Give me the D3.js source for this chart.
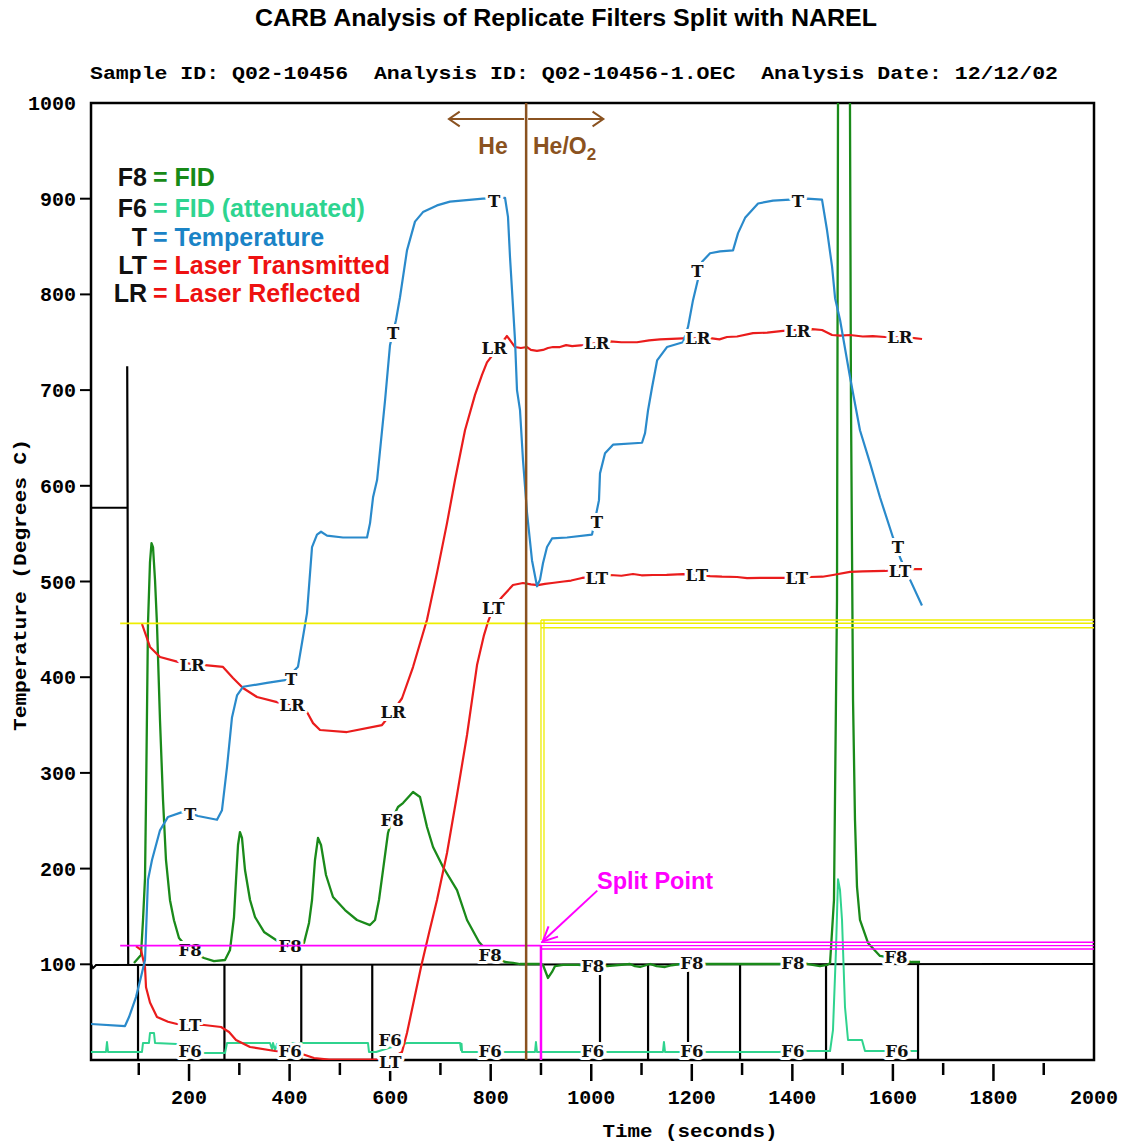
<!DOCTYPE html>
<html><head><meta charset="utf-8">
<script src="https://cdn.jsdelivr.net/npm/d3@7"></script>
<style>body{margin:0;background:#fff} svg{display:block}</style>
</head><body>
<svg id="c" width="1124" height="1142"></svg>
<script>
// ---------------- DATA ----------------
const xTickValues = [100,200,300,400,500,600,700,800,900,1000,1100,1200,1300,1400,1500,1600,1700,1800,1900];
const xTickLabels = [200,400,600,800,1000,1200,1400,1600,1800,2000];
const yTickValues = [100,200,300,400,500,600,700,800,900];
const yTickLabels = [100,200,300,400,500,600,700,800,900,1000];

// Temperature trace [time s, value]
const tempSeries = [[5,37.6],[72.6,35.5],[80.6,44.9],[94.5,65.8],[104.4,86.7],[112.4,104.5],[118.3,188],[126.3,209],[142.2,240],[158.1,254],[186,259],[202,258],[217.8,255],[255.6,251],[265.5,261],[275.5,306],[285.4,358],[295.4,381],[307.3,390],[355,394],[390.8,397],[416.7,411],[424.7,436],[434.6,467],[444.6,536],[454.5,549],[462.5,552],[474.4,548],[506.2,546],[554,546],[560,561],[566,588],[574,606],[590,690],[599.7,747],[611.6,773],[619.6,797],[633.5,846],[649.4,876],[665.3,886],[693.2,893],[719,897],[784.7,900],[828.5,901],[834.4,881],[838.4,839],[844.4,787],[848.4,752],[852.3,700],[858.3,679],[864.2,627],[872.2,572],[882.2,522],[892.1,495],[898.1,502],[904,519],[912,536],[922,545],[951.8,546],[1001.5,549],[1015.4,585],[1017.4,613],[1027.4,634],[1043.3,643],[1101,645],[1107,655],[1113,679],[1121,703],[1131,731],[1150.6,745],[1182.5,750],[1192.5,766],[1202.4,794],[1212,815],[1220.4,834],[1236.3,843],[1256.2,845],[1282,846],[1292,864],[1306,880],[1331.8,895],[1361.6,898],[1395.5,899],[1429.1,900],[1459,899],[1469,867],[1479,829],[1485,796],[1495,773],[1514.6,714],[1534.5,658],[1554.4,624],[1574.3,588],[1600.2,546],[1615,524],[1634,502],[1657.8,475]];

// Laser reflected
const lrSeries = [[106.4,455.6],[122.3,431.6],[142.2,421.1],[178,416],[205,414],[231.7,412.7],[267.5,410.7],[287.4,399.2],[307.3,388.7],[335.2,379.3],[375,374],[405,370],[434.6,363.6],[446.6,352],[460.5,344.8],[514.2,342.7],[583.8,350],[605,364],[623.6,378],[645.5,410.6],[673.3,460],[693.2,509],[713.1,561],[729,606],[748.9,658],[768.8,695],[782.7,716],[792.6,729],[832.4,756.5],[848.3,745],[860,744],[872.2,745],[880,742],[892,741],[904,742],[914,744],[924,745],[937.8,745],[950,747],[962,746],[983.6,747],[1010,749],[1037.3,751],[1060,750],[1091,750],[1115,752],[1136.7,753],[1182.5,754],[1240.1,754],[1255,753],[1270,755.5],[1290,756],[1321.7,759.6],[1350,760],[1381.4,761.8],[1410,763],[1439.2,763.8],[1459,762.8],[1479,757.6],[1495,757],[1514.7,757.6],[1540,756],[1560,756.5],[1584.3,755.5],[1614,755],[1638,754.5],[1658,753.4]];

// Laser transmitted
const ltSeries = [[94.5,119],[104.4,115],[112.4,97],[114.4,76],[122.3,60],[136.2,45],[158.1,40],[176,37.6],[202,37],[229.7,36.6],[263.6,34.5],[279.5,29.3],[293.4,20.9],[321.3,13.6],[371,9.4],[400,8],[424.7,6.3],[448.5,2.1],[478.4,0.5],[570,0.5],[600,1],[623.6,8.4],[633.5,28.2],[647.5,62.7],[661.4,97.2],[677.3,132.7],[693.2,167.2],[713.1,216.3],[733,276.9],[752.9,339.6],[772.8,412.7],[786.7,444],[794.6,457.7],[805,472],[822.5,483.8],[844.3,496.3],[864.2,498.4],[880,497],[894,496.3],[908,497.5],[922,498.4],[945,500],[960,501],[981.6,503.7],[1011,505],[1037.3,506.8],[1060,506],[1083,507.8],[1100,506.5],[1122.8,506.8],[1150,507],[1182.5,507.8],[1210,507],[1236.3,505.7],[1260,505],[1290,504.7],[1310,503.5],[1335.7,503.7],[1381.4,503.7],[1409,504],[1435,504.7],[1460,505],[1480.8,506.8],[1514.6,510],[1540,510.5],[1584.3,511],[1614,512],[1638,513],[1658,513]];

// FID (F8)
const f8Series = [[90.5,101.4],[104.4,109.7],[108.4,146],[112.4,190],[114.4,272],[118.3,455.6],[122.3,520],[125.3,540],[128.3,536],[132.3,501.6],[136.2,455.6],[142.2,355],[148.2,272],[154.1,209],[162.1,167],[170,146],[180,127.5],[202,114],[229.7,106.6],[249.6,103.4],[271.5,104.5],[281.5,115],[289.4,149.4],[293.4,188],[297.4,224.7],[301.3,238.2],[305.3,232],[311.3,198.5],[321.3,167.2],[331.2,149.4],[349.1,133.8],[379,123.3],[401,121],[428.6,122.3],[438.6,143.2],[444.6,167.2],[450.5,209],[456.5,232],[462.5,224.7],[472.4,193.3],[486.3,170.3],[510.2,156.7],[534,146.3],[559.9,141],[569.9,146.3],[577.8,167.2],[585.8,198.5],[595.7,237.2],[604,252],[615.6,264.4],[625.6,268.5],[645.5,280],[659.4,274.8],[673.3,243.5],[685.3,222.6],[705.2,201.7],[733,177.6],[752.9,146.3],[776.8,123.3],[800,110],[828.5,102.4],[844.4,101.4],[858.3,100.3],[900,100.3],[904,99.3],[914,85.7],[922,92],[928,98.2],[944,99.3],[973.6,99.3],[1003,98],[1031.3,98.2],[1077,100.3],[1087,98],[1097,97.2],[1117,100.3],[1130,98],[1146.7,97.2],[1160,99],[1176.5,100.3],[1200,100.3],[1228.4,100.3],[1375.6,100.3],[1431.2,100.3],[1455,98.2],[1469,99.3],[1475,101.4],[1482.8,167.2],[1488.8,480.7],[1490.8,1000],[1495,1150],[1505,1200],[1512,1150],[1514.6,1000],[1516.6,689.7],[1520.7,376],[1524.6,250.8],[1528.6,180.8],[1534.5,146.3],[1550.5,122.3],[1574.3,108.7],[1606,106],[1638,102.4],[1654,102.4]];

// FID attenuated (F6)
const f6Series = [[5,8.4],[34.8,8.4],[36.8,18.8],[38.8,8.4],[106.4,8.4],[108.4,17.8],[120.3,17.8],[122.3,28.2],[130.3,28.2],[132.3,17.8],[176,16.7],[202,12],[229.7,7.3],[271.5,7.3],[275.5,17.8],[361,17.8],[365,11.5],[367,17.8],[371,10.4],[375,16.7],[400,17.5],[428.6,17.8],[555.9,17.8],[557.9,8.4],[572,8.4],[600,13],[633.5,17.8],[739,17.8],[741,10.4],[742,17],[743,8.4],[772.8,8.4],[826.5,8.4],[888.1,8.4],[890,18.8],[892,8.4],[977.6,8.4],[1031.3,8.4],[1142.6,8.4],[1144.6,18.8],[1146.7,8.4],[1172.5,8.4],[1228.4,8.4],[1371.6,8.4],[1431.2,9.4],[1475,9.4],[1480.8,31.3],[1486.8,115],[1490.8,189],[1494.8,177.6],[1498.8,146.3],[1504.7,55.4],[1510.7,20.9],[1538.5,20.9],[1544.5,9.4],[1574.3,9.4],[1638,9.4],[1648,9.4]];

// Black integration baseline and segment markers
const baseSeries = [[5,100.3],[9,96],[15,99.3],[2000,100.3]];
const markerTimes = [98.5,270.4,423.2,564.4,1017.4,1113,1192.5,1296,1467,1650];
const blackTopSeries = [[5,577],[78,577]];
const blackDropSeries = [[77,725],[77.5,640],[78.5,420],[78,250],[79,100]];

// Trace label anchors [time, value]
const tLabels  = [[202,257],[403,398],[606,760],[807,898],[1011,562],[1211,824],[1411,898],[1610,536]];
const lrLabels = [[206,413],[405,371],[606,364],[807,744],[1011,749],[1212,754],[1411,762],[1614,755]];
const ltLabels = [[202,36.6],[600,-1.8],[805,472],[1011,504],[1210,507],[1409,504],[1614,511]];
const f8Labels = [[202,115],[401,119],[604,251],[799,110],[1003,98],[1200,101],[1401,101],[1606,108]];
const f6Labels = [[202,9.4],[401,9.4],[600,20.8],[799,9.4],[1003,9.4],[1200,9.4],[1401,9.4],[1608,9.4]];

// Annotations
const gasSwitchTime = 870.5;
const splitTime = 900;
const yellowLevel = 456.3;
const yellowLevelsRight = [459.8,456.3,451.7];
const magentaLevel = 119.5;
const magentaLevelsRight = [123,119.5,116];
const legendRows = [
  {key:"F8", text:"= FID", color:"#178a17"},
  {key:"F6", text:"= FID (attenuated)", color:"#2ed490"},
  {key:"T",  text:"= Temperature", color:"#1a83c6"},
  {key:"LT", text:"= Laser Transmitted", color:"#ee1111"},
  {key:"LR", text:"= Laser Reflected", color:"#ee1111"}
];

// ---------------- DRAW ----------------
const C = {f8:"#1a8a1a", f6:"#2fd38e", t:"#2a8acb", red:"#ea1c1c", brown:"#8a5220", yellow:"#eeee00", magenta:"#ff00ff"};
const x = d3.scaleLinear().domain([0,2000]).range([88.5,1094]);
const y = d3.scaleLinear().domain([0,1000]).range([1060,103]);
const svg = d3.select("#c");
const line = d3.line().x(d=>x(d[0])).y(d=>y(d[1]));
const frameStart = 5;
const monoFont = "'Liberation Mono','DejaVu Sans Mono',monospace";
const sansFont = "'Liberation Sans',Arial,sans-serif";

svg.append("defs").append("clipPath").attr("id","plot")
  .append("rect").attr("x",x(frameStart)).attr("y",y(1000)).attr("width",x(2000)-x(frameStart)).attr("height",y(0)-y(1000));

// Title + subtitle
svg.append("text").attr("x",566).attr("y",26).attr("text-anchor","middle")
  .attr("font-family",sansFont).attr("font-weight","bold").attr("font-size",23)
  .attr("textLength",622).attr("lengthAdjust","spacingAndGlyphs")
  .text("CARB Analysis of Replicate Filters Split with NAREL");
svg.append("text").attr("x",90).attr("y",79).style("white-space","pre")
  .attr("font-family",monoFont).attr("font-weight","bold").attr("font-size",19)
  .attr("textLength",968).attr("lengthAdjust","spacingAndGlyphs")
  .text("Sample ID: Q02-10456  Analysis ID: Q02-10456-1.OEC  Analysis Date: 12/12/02");

// Frame
const g = svg.append("g");
g.append("rect").attr("x",x(frameStart)).attr("y",y(1000)).attr("width",x(2000)-x(frameStart)).attr("height",y(0)-y(1000))
  .attr("fill","none").attr("stroke","#000").attr("stroke-width",2.5);

// Y ticks & labels
g.selectAll(".yt").data(yTickValues).join("line")
  .attr("x1",x(frameStart)-11).attr("x2",x(frameStart)).attr("y1",d=>y(d)).attr("y2",d=>y(d))
  .attr("stroke","#000").attr("stroke-width",2);
g.selectAll(".yl").data(yTickLabels).join("text")
  .attr("x",76).attr("y",d=>y(d)).attr("dy","0.35em").attr("text-anchor","end")
  .attr("font-family",monoFont).attr("font-weight","bold").attr("font-size",20).text(d=>d);

// X ticks & labels
g.selectAll(".xt").data(xTickValues).join("line")
  .attr("x1",d=>x(d)).attr("x2",d=>x(d))
  .attr("y1",d=>d%200===0?1064:1063).attr("y2",d=>d%200===0?1081:1075)
  .attr("stroke","#000").attr("stroke-width",2.5);
g.selectAll(".xl").data(xTickLabels).join("text")
  .attr("x",d=>x(d)).attr("y",1097).attr("dy","0.35em").attr("text-anchor","middle")
  .attr("font-family",monoFont).attr("font-weight","bold").attr("font-size",20).text(d=>d);

// Axis titles
svg.append("text").attr("transform","translate(19,585) rotate(-90)").attr("text-anchor","middle").attr("dy","0.35em")
  .attr("font-family",monoFont).attr("font-size",19).attr("font-weight","bold")
  .attr("textLength",292).attr("lengthAdjust","spacingAndGlyphs").text("Temperature (Degrees C)");
svg.append("text").attr("x",690).attr("y",1130).attr("text-anchor","middle").attr("dy","0.35em")
  .attr("font-family",monoFont).attr("font-size",19).attr("font-weight","bold")
  .attr("textLength",175).attr("lengthAdjust","spacingAndGlyphs").text("Time (seconds)");

// Black baseline, markers, left trace
const pl = svg.append("g").attr("clip-path","url(#plot)");
pl.append("path").attr("d",line(baseSeries)).attr("fill","none").attr("stroke","#000").attr("stroke-width",2);
pl.selectAll(".mk").data(markerTimes).join("line")
  .attr("x1",d=>x(d)).attr("x2",d=>x(d)).attr("y1",y(100)).attr("y2",y(0))
  .attr("stroke","#000").attr("stroke-width",2.2);
pl.append("path").attr("d",line(blackTopSeries)).attr("fill","none").attr("stroke","#000").attr("stroke-width",2);
pl.append("path").attr("d",line(blackDropSeries)).attr("fill","none").attr("stroke","#000").attr("stroke-width",2.2);

// Traces
const traces = [
  {d:f6Series, c:C.f6, w:2},
  {d:f8Series, c:C.f8, w:2.3},
  {d:ltSeries, c:C.red, w:2.2},
  {d:lrSeries, c:C.red, w:2.2},
  {d:tempSeries, c:C.t, w:2.2}
];
traces.forEach(t=>{
  pl.append("path").attr("d",line(t.d)).attr("fill","none").attr("stroke",t.c)
    .attr("stroke-width",t.w).attr("stroke-linejoin","round");
});

// Trace labels with white knock-out
const labelSets = [[tLabels,"T"],[lrLabels,"LR"],[ltLabels,"LT"],[f8Labels,"F8"],[f6Labels,"F6"]];
labelSets.forEach(([arr,txt])=>{
  svg.append("g").selectAll("text").data(arr).join("text")
    .attr("x",d=>x(d[0])).attr("y",d=>y(d[1])).attr("dy","0.36em").attr("text-anchor","middle")
    .attr("font-family","'DejaVu Serif',serif").attr("font-weight","bold").attr("font-size",16.5)
    .attr("fill","#111").attr("stroke","#fff").attr("stroke-width",6).attr("paint-order","stroke")
    .attr("stroke-linejoin","round").text(txt);
});

// Yellow lines
const an = svg.append("g");
an.append("line").attr("x1",x(63)).attr("x2",x(splitTime)).attr("y1",y(yellowLevel)).attr("y2",y(yellowLevel))
  .attr("stroke",C.yellow).attr("stroke-width",1.8);
an.selectAll(".yr").data(yellowLevelsRight).join("line")
  .attr("x1",x(splitTime)).attr("x2",x(2000)).attr("y1",d=>y(d)).attr("y2",d=>y(d))
  .attr("stroke",C.yellow).attr("stroke-width",1.4);
an.selectAll(".yv").data([splitTime, splitTime+6]).join("line")
  .attr("x1",d=>x(d)).attr("x2",d=>x(d)).attr("y1",y(yellowLevelsRight[0])).attr("y2",y(125.4))
  .attr("stroke",C.yellow).attr("stroke-width",1.3);

// Magenta lines
an.append("line").attr("x1",x(63)).attr("x2",x(splitTime)).attr("y1",y(magentaLevel)).attr("y2",y(magentaLevel))
  .attr("stroke",C.magenta).attr("stroke-width",1.8);
an.selectAll(".mr").data(magentaLevelsRight).join("line")
  .attr("x1",x(splitTime)).attr("x2",x(2000)).attr("y1",d=>y(d)).attr("y2",d=>y(d))
  .attr("stroke",C.magenta).attr("stroke-width",1.4);
an.append("line").attr("x1",x(splitTime)).attr("x2",x(splitTime)).attr("y1",y(magentaLevel)).attr("y2",y(0))
  .attr("stroke",C.magenta).attr("stroke-width",2.5);

function chevron(x1,y1,x2,y2,len,ang){
  const a=Math.atan2(y1-y2,x1-x2);
  const p1=[x2+len*Math.cos(a+ang), y2+len*Math.sin(a+ang)];
  const p2=[x2+len*Math.cos(a-ang), y2+len*Math.sin(a-ang)];
  return `M${p1[0]},${p1[1]}L${x2},${y2}L${p2[0]},${p2[1]}`;
}
// Split Point arrow
{
  const sx=x(1012), sy=y(177), ex=x(903.5), ey=y(124);
  an.append("line").attr("x1",sx).attr("y1",sy).attr("x2",ex).attr("y2",ey).attr("stroke",C.magenta).attr("stroke-width",2);
  an.append("path").attr("d",chevron(sx,sy,ex,ey,16,0.45)).attr("fill","none").attr("stroke",C.magenta).attr("stroke-width",2);
  an.append("text").attr("x",597).attr("y",889).attr("font-family",sansFont).attr("font-weight","bold")
    .attr("font-size",23.5).attr("fill",C.magenta).text("Split Point");
}

// He / He-O2 switch
an.append("line").attr("x1",x(gasSwitchTime)).attr("x2",x(gasSwitchTime)).attr("y1",y(1000)).attr("y2",y(0))
  .attr("stroke",C.brown).attr("stroke-width",2.5);
{
  const ay=y(983.3), xm=x(gasSwitchTime);
  const xl=x(717), xr=x(1024);
  an.append("line").attr("x1",xm-2).attr("x2",xl).attr("y1",ay).attr("y2",ay).attr("stroke",C.brown).attr("stroke-width",2);
  an.append("line").attr("x1",xm+2).attr("x2",xr).attr("y1",ay).attr("y2",ay).attr("stroke",C.brown).attr("stroke-width",2);
  an.append("path").attr("d",chevron(xm,ay,xl,ay,13,0.6)).attr("fill","none").attr("stroke",C.brown).attr("stroke-width",2);
  an.append("path").attr("d",chevron(xm,ay,xr,ay,13,0.6)).attr("fill","none").attr("stroke",C.brown).attr("stroke-width",2);
  an.append("text").attr("x",493).attr("y",154).attr("text-anchor","middle").attr("font-family",sansFont)
    .attr("font-weight","bold").attr("font-size",23).attr("fill",C.brown).text("He");
  const t2 = an.append("text").attr("x",533).attr("y",154).attr("font-family",sansFont)
    .attr("font-weight","bold").attr("font-size",23).attr("fill",C.brown);
  t2.append("tspan").text("He/O");
  t2.append("tspan").attr("dy",6).attr("font-size",17).text("2");
}

// Legend
const lg = svg.append("g").attr("font-family",sansFont).attr("font-weight","bold").attr("font-size",25);
const rowY = [186,217,246,274,302];
legendRows.forEach((r,i)=>{
  lg.append("text").attr("x",147).attr("y",rowY[i]).attr("text-anchor","end").attr("fill","#111").text(r.key);
  lg.append("text").attr("x",153).attr("y",rowY[i]).style("white-space","pre").attr("fill",r.color).text(r.text);
});
</script>
</body></html>
